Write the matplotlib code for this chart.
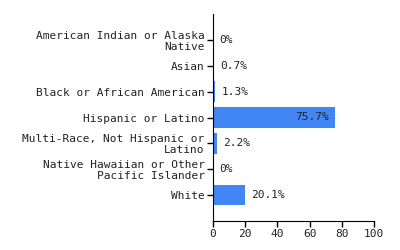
import matplotlib
matplotlib.use("Agg")
import matplotlib.pyplot as plt

# categories and values (percent)
categories = ["American Indian or Alaska\nNative", "Asian", "Black or African American",
              "Hispanic or Latino", "Multi-Race, Not Hispanic or\nLatino",
              "Native Hawaiian or Other\nPacific Islander", "White"]
values = [0, 0.7, 1.3, 75.7, 2.2, 0, 20.1]
labels = ["0%", "0.7%", "1.3%", "75.7%", "2.2%", "0%", "20.1%"]
xticks = [0, 20, 40, 60, 80, 100]

plt.rcParams['font.family'] = ['DejaVu Sans Mono']
plt.rcParams['font.size'] = 8

fig = plt.figure(figsize=[4, 2.5], dpi=100)
ax = fig.add_axes([0.5325, 0.116, 0.4025, 0.828])

pos = list(range(len(categories)))
ax.barh(pos, values, height=0.8, color="#4285f4")

for p, v, lab in zip(pos, values, labels):
    if v > 50:
        ax.annotate(lab, (v, p), xytext=(-4.5, 0), textcoords="offset points",
                    ha="right", va="center", color="#222222")
    else:
        ax.annotate(lab, (v, p), xytext=(4.5, 0), textcoords="offset points",
                    ha="left", va="center", color="#222222")

ax.set_yticks(pos)
ax.set_yticklabels(categories, linespacing=1.1, color="#222222")
ax.set_ylim(7, -1)
ax.set_xlim(0, 100)
ax.set_xticks(xticks)
ax.tick_params(axis="both", length=4, width=1, color="#000000", pad=2, labelcolor="#222222")

ax.spines['top'].set_visible(False)
ax.spines['right'].set_visible(False)

fig.savefig("out.png", dpi=100)
